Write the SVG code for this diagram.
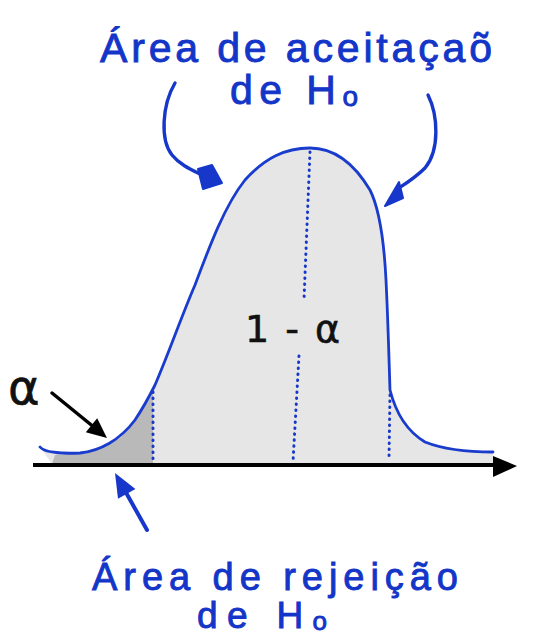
<svg xmlns="http://www.w3.org/2000/svg" width="536" height="642" viewBox="0 0 536 642">
<style>
.blue{fill:#1335c8;stroke:#1335c8;stroke-width:0.9;font-family:"Liberation Sans",Arial,sans-serif;}
.blk{fill:#111;stroke:#111;stroke-width:0.6;font-family:"DejaVu Sans",sans-serif;}
.dot{fill:none;stroke:#1637c9;stroke-width:3;stroke-linecap:round;stroke-dasharray:0.5 5.5;}
.bl{fill:none;stroke:#1637c9;stroke-width:3.4;stroke-linecap:round;stroke-linejoin:round;}
</style>
<rect width="536" height="642" fill="#fff"/>
<g id="distribution">
<path d="M40,447 C44,452 60,454 80,453 C100,451 120,440 135,420 C145,405 150,395 155,385 C170,350 180,320 195,285 C210,245 225,205 245,180 C265,158 285,148 310,148 C335,148 355,165 370,190 C380,210 384,240 386,280 C388,320 389,360 390,390 C395,410 405,430 425,442 C445,450 470,452 493,452 L493,464 L52,464 Z" fill="#e6e6e6"/>
<path d="M52,464 L55,455 C75,454 100,450 120,438 C135,425 145,405 153,388 L153,464 Z" fill="#b9b9b9"/>
<path d="M40,447 C44,452 60,454 80,453 C100,451 120,440 135,420 C145,405 150,395 155,385 C170,350 180,320 195,285 C210,245 225,205 245,180 C265,158 285,148 310,148 C335,148 355,165 370,190 C380,210 384,240 386,280 C388,320 389,360 390,390 C395,410 405,430 425,442 C445,450 470,452 493,452" fill="none" stroke="#1a3ccc" stroke-width="2.8" stroke-linecap="round"/>
<path class="dot" d="M153,392 L153,462"/>
<path class="dot" d="M310,152 L304,300"/>
<path class="dot" d="M299,356 L293,462"/>
<path class="dot" d="M390,395 L389,460"/>
</g>
<g id="axis">
<line x1="33" y1="465" x2="500" y2="465" stroke="#000" stroke-width="4"/>
<polygon points="493,456 517,466 493,477" fill="#000"/>
</g>
<g id="label-one-minus-alpha">
<text class="blk" x="245" y="342" font-size="38" textLength="95" lengthAdjust="spacing">1 - α</text>
</g>
<g id="label-alpha">
<text class="blk" x="8" y="404" font-size="48">α</text>
</g>
<g id="label-acceptance">
<text class="blue" x="100" y="62" font-size="41" textLength="392" lengthAdjust="spacing">Área de aceitaçaõ</text>
<text class="blue" x="230" y="104" font-size="41" textLength="128" lengthAdjust="spacing">de H<tspan font-size="28" dy="2">o</tspan></text>
</g>
<g id="label-rejection">
<text class="blue" x="92" y="590" font-size="38" textLength="366" lengthAdjust="spacing">Área de rejeição</text>
<text class="blue" x="197" y="628" font-size="37" textLength="130" lengthAdjust="spacing">de H<tspan font-size="26" dy="2">o</tspan></text>
</g>
<g id="connectors">
<path class="bl" d="M175,83 C162,105 160,140 172,155 C180,165 192,170 204,176"/>
<path d="M198,169 L212,165 L222,183 L203,189 Z" fill="#1637c9" stroke="#1637c9" stroke-width="2" stroke-linejoin="round"/>
<path class="bl" d="M428,95 C438,115 440,150 425,168 C415,178 405,184 396,190"/>
<path d="M399,182 L403,198 L385,206 Z" fill="#1637c9" stroke="#1637c9" stroke-width="2" stroke-linejoin="round"/>
<line x1="52" y1="393" x2="95" y2="428" stroke="#000" stroke-width="3.5" stroke-linecap="round"/>
<polygon points="107,438 85.8,432.3 97.2,418.3" fill="#000"/>
<line x1="147" y1="530" x2="124" y2="489" stroke="#1637c9" stroke-width="4" stroke-linecap="round"/>
<polygon points="115,473 135.4,489 118,498.8" fill="#1637c9"/>
</g>
</svg>
